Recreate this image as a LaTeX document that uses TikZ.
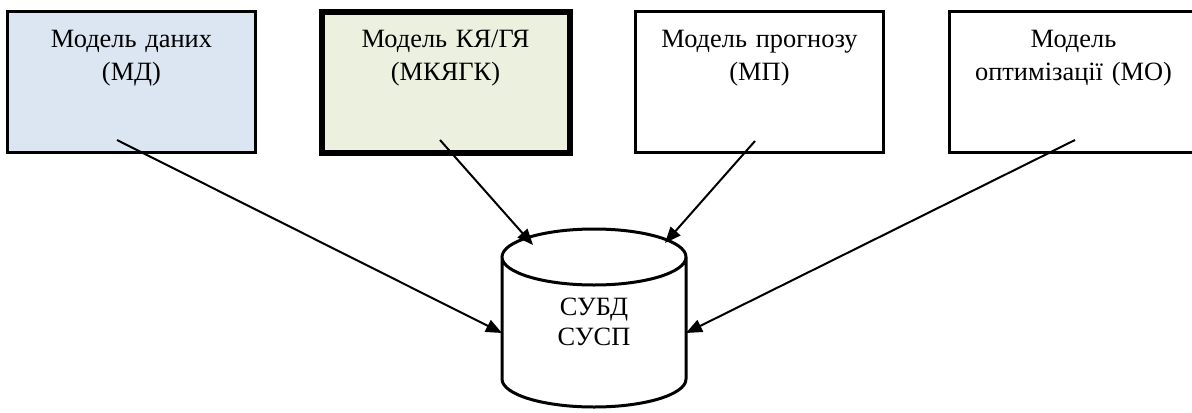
\documentclass[tikz,border=0pt]{standalone}
\usepackage{fontspec}
\setmainfont{Liberation Serif}
\usetikzlibrary{arrows.meta}
\definecolor{mdblue}{HTML}{DCE6F2}
\definecolor{mkgreen}{HTML}{EBF1DE}

\begin{document}
\begin{tikzpicture}[x=0.5pt,y=-0.5pt,->,>={Triangle[length=8pt,width=6.5pt]},line width=1pt,node distance=157pt,
    model node/.style={rectangle,draw,line width=1.5pt,minimum width=124pt,text width=118pt,align=center,inner xsep=2pt,inner ysep=0pt,text height=17.75pt,text depth=52.75pt,font=\fontsize{13.2}{16.5}\selectfont},
    db node/.style={rectangle,outer sep=0pt,minimum width=92pt,minimum height=61pt,text width=80pt,align=center,text height=10pt,text depth=12.5pt,font=\fontsize{13.2}{15}\selectfont},
    db outline/.style={-,draw,line width=1.5pt,fill=white}]
                \useasboundingbox (0,0) rectangle (1192,412);

                \node[model node] (md) [fill=mdblue] at (131.5,82) {Модель даних\\(МД)};
                \node[model node] (mkyagk) [fill=mkgreen, line width=3pt, right of=md] {Модель КЯ/ГЯ\\(МКЯГК)};
                \node[model node] (mp) [right of=mkyagk] {Модель прогнозу\\(МП)};
                \node[model node] (mo) [right of=mp] {Модель\\оптимізації (МО)};

                % cylinder round the text node
                \path[db outline] (594,257) ++(-46pt,0) -- ++(0,-61pt) arc[start angle=180,end angle=360,x radius=46pt,y radius=14pt] -- ++(0,61pt) arc[start angle=0,end angle=360,x radius=46pt,y radius=14pt];
                \node[db node] (subd) at (594,318) {СУБД\\СУСП};

                \coordinate (md tail) at (117,140);
                \coordinate (mkyagk tail) at (440,140);
                \coordinate (mp tail) at (755,141);
                \coordinate (mo tail) at (1075,140);

                \path
                    (md tail) edge ([yshift=-7.5pt]subd.west)
                    (mkyagk tail) edge ([xshift=-30.5pt,yshift=6pt]subd.north)
                    (mp tail) edge ([xshift=35.5pt,yshift=7pt]subd.north)
                    (mo tail) edge ([yshift=-7.5pt]subd.east)
                ;

            \end{tikzpicture}
\end{document}
